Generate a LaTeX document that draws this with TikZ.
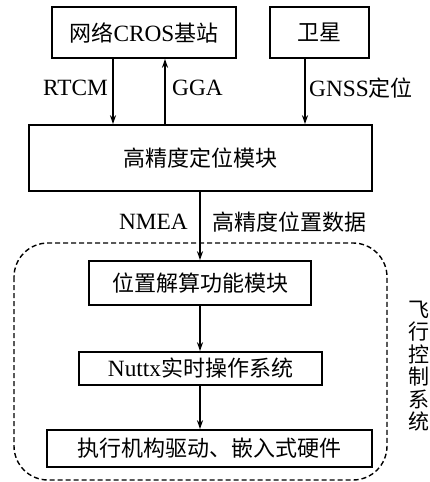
\documentclass[tikz,border=0pt]{standalone}
\usepackage{fontspec}
\setmainfont[Scale=1.06]{Liberation Serif}
\newfontfamily\cjk{Noto Sans CJK SC}
\usetikzlibrary{arrows.meta}
\begin{document}
\begin{tikzpicture}[x=1pt,y=-1pt,
  box/.style={draw,line width=1.6pt,inner sep=0pt,font=\fontsize{22}{26}\selectfont},
  arr/.style={line width=1.4pt,-{Stealth[length=9pt,width=6pt]}},
  lbl/.style={inner sep=0pt,font=\fontsize{22}{26}\selectfont}]
\useasboundingbox (0,0) rectangle (429,482);
\node[box,minimum width=184pt,minimum height=51pt] (b1) at (144,32.5) {{\cjk 网络}CROS{\cjk 基站}};
\node[box,minimum width=99pt,minimum height=51pt] (b2) at (319.5,32.5) {\cjk 卫星};
\node[box,minimum width=343pt,minimum height=66pt] (b3) at (200.5,158) {\cjk 高精度定位模块};
\node[box,minimum width=222pt,minimum height=44pt] (b4) at (200,283) {\cjk 位置解算功能模块};
\node[box,minimum width=243pt,minimum height=33pt] (b5) at (200.5,368.5) {Nuttx{\cjk 实时操作系统}};
\node[box,minimum width=325pt,minimum height=37pt] (b6) at (209.5,448.5) {\cjk 执行机构驱动、嵌入式硬件};
\draw[line width=1.4pt,dash pattern=on 5pt off 3pt,rounded corners=34pt] (14,243) rectangle (387,480);
\coordinate (xr) at (113,0);
\coordinate (xg) at (165,0);
\coordinate (xs) at (305,0);
\coordinate (xm) at (200,0);
\draw[arr] (b1.south -| xr) -- (b3.north -| xr);
\draw[arr] (b3.north -| xg) -- (b1.south -| xg);
\draw[arr] (b2.south -| xs) -- (b3.north -| xs);
\draw[arr] (b3.south -| xm) -- (b4.north -| xm);
\draw[arr] (b4.south -| xm) -- (b5.north -| xm);
\draw[arr] (b5.south -| xm) -- (b6.north -| xm);
\node[lbl,anchor=east] (l1) at (108,88) {RTCM};
\node[lbl,anchor=west] (l2) at (172,88) {GGA};
\node[lbl,anchor=west] (l3) at (309,88) {GNSS{\cjk 定位}};
\node[lbl,anchor=east] (l4) at (188,222) {NMEA};
\node[lbl,anchor=west] (l5) at (212,222) {\cjk 高精度位置数据};
\node[lbl,align=center,font=\fontsize{21}{22.5}\selectfont\cjk] (l6) at (419,366) {飞\\行\\控\\制\\系\\统};
\end{tikzpicture}
\end{document}
